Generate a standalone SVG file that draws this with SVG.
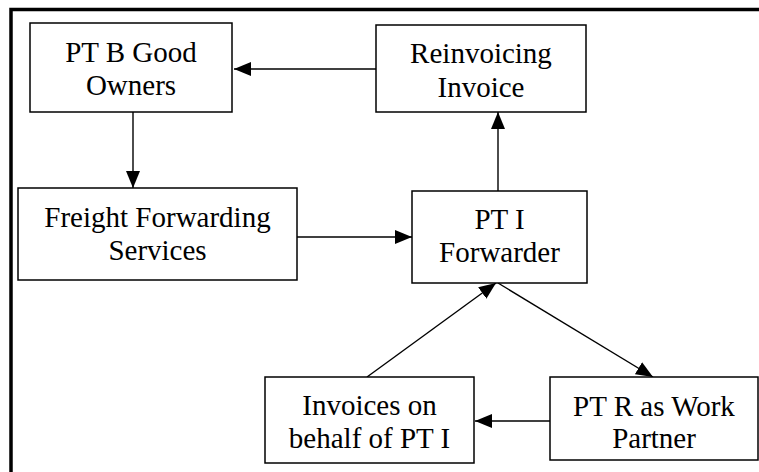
<svg xmlns="http://www.w3.org/2000/svg" width="759" height="472" viewBox="0 0 759 472">
<defs>
<marker id="ah" markerUnits="userSpaceOnUse" markerWidth="17" markerHeight="14" refX="17" refY="7" orient="auto">
<path d="M0,0 L17,7 L0,14 Z" fill="#000"/>
</marker>
<style>
.box{fill:#fff;stroke:#000;stroke-width:1.5}
.t{font-family:"Liberation Serif","Tinos","DejaVu Serif",serif;font-size:29px;fill:#000;text-anchor:middle}
.c{stroke:#000;stroke-width:1.4;fill:none;marker-end:url(#ah)}
</style>
</defs>
<rect x="0" y="0" width="759" height="472" fill="#fff"/>
<rect x="11" y="9.5" width="770" height="480" fill="none" stroke="#000" stroke-width="3.5"/>
<g id="connectors">
<line class="c" x1="376" y1="69" x2="234" y2="69"/>
<line class="c" x1="133" y1="112" x2="133" y2="188"/>
<line class="c" x1="297" y1="237" x2="412" y2="237"/>
<line class="c" x1="498" y1="191" x2="498" y2="112"/>
<line class="c" x1="367" y1="377" x2="496" y2="283"/>
<line class="c" x1="498" y1="283" x2="653" y2="377"/>
<line class="c" x1="550" y1="421" x2="475" y2="421"/>
</g>
<g id="ptb">
<rect class="box" x="30" y="23" width="202" height="89"/>
<text class="t" x="131" y="62">PT B Good</text>
<text class="t" x="131" y="95">Owners</text>
</g>
<g id="reinvoicing">
<rect class="box" x="376" y="25" width="210" height="87"/>
<text class="t" x="481" y="63">Reinvoicing</text>
<text class="t" x="481" y="97">Invoice</text>
</g>
<g id="freight">
<rect class="box" x="18" y="188" width="279" height="92"/>
<text class="t" x="157.5" y="227">Freight Forwarding</text>
<text class="t" x="157.5" y="260">Services</text>
</g>
<g id="pti">
<rect class="box" x="412" y="191" width="175" height="92"/>
<text class="t" x="499.5" y="229">PT I</text>
<text class="t" x="499.5" y="262">Forwarder</text>
</g>
<g id="invoices">
<rect class="box" x="265" y="377" width="209" height="86"/>
<text class="t" x="369.5" y="415">Invoices on</text>
<text class="t" x="369.5" y="448">behalf of PT I</text>
</g>
<g id="ptr">
<rect class="box" x="550" y="377" width="208" height="83"/>
<text class="t" x="654" y="416">PT R as Work</text>
<text class="t" x="654" y="448">Partner</text>
</g>
</svg>
